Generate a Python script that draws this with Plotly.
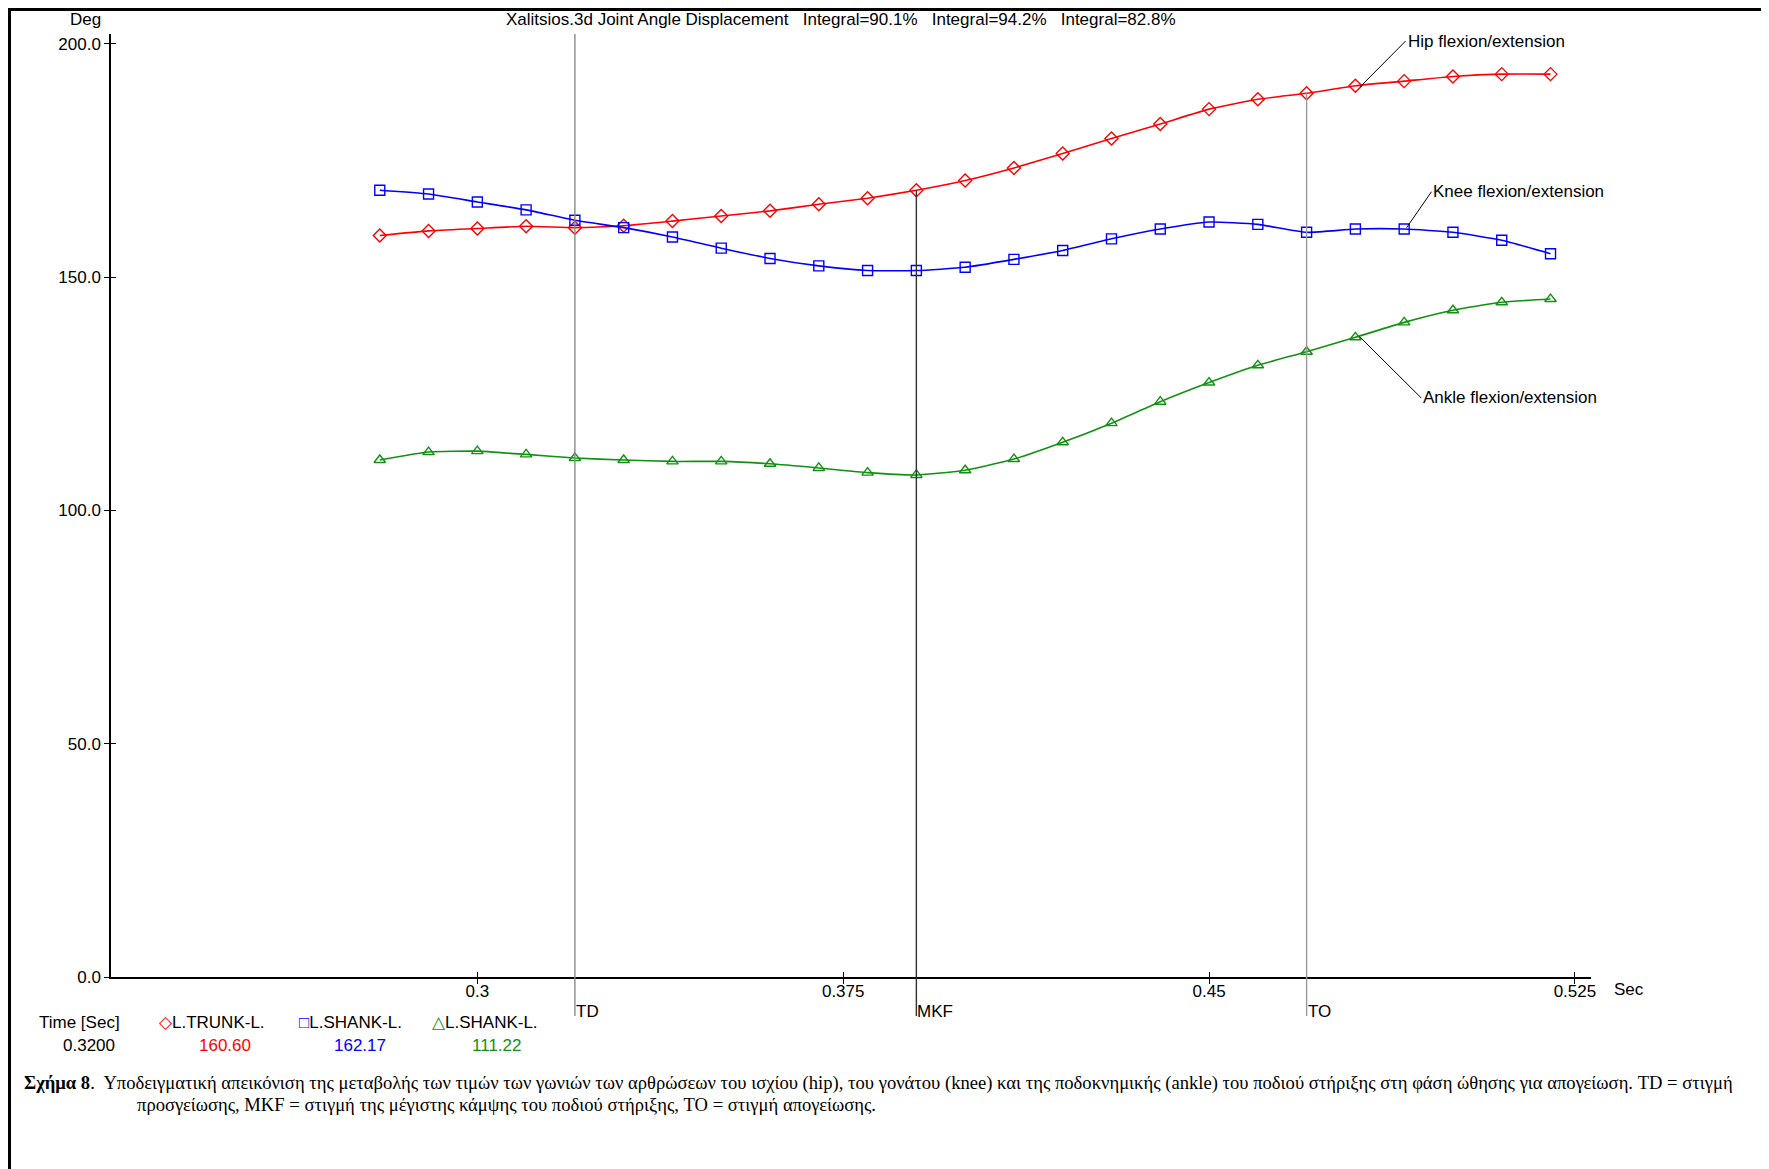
import plotly.graph_objects as go

# ---- data ----
time_s = [0.28, 0.29, 0.30, 0.31, 0.32, 0.33, 0.34, 0.35, 0.36, 0.37, 0.38, 0.39, 0.40,
          0.41, 0.42, 0.43, 0.44, 0.45, 0.46, 0.47, 0.48, 0.49, 0.50, 0.51, 0.52]
hip = [158.9, 159.9, 160.4, 160.9, 160.6, 161.0, 162.0, 163.1, 164.2, 165.6, 166.9, 168.6, 170.7,
       173.4, 176.5, 179.7, 182.8, 186.0, 188.1, 189.4, 191.0, 192.0, 193.0, 193.5, 193.5]
knee = [168.6, 167.8, 166.1, 164.4, 162.17, 160.6, 158.6, 156.2, 154.0, 152.4, 151.4, 151.4, 152.1,
        153.8, 155.7, 158.2, 160.3, 161.8, 161.3, 159.6, 160.3, 160.3, 159.6, 157.9, 155.0]
ankle = [110.8, 112.5, 112.7, 112.0, 111.22, 110.8, 110.5, 110.5, 110.0, 109.1, 108.1, 107.6, 108.6,
         111.0, 114.6, 118.7, 123.3, 127.4, 131.1, 134.0, 137.1, 140.3, 142.9, 144.6, 145.3]

event_names = ["TD", "MKF", "TO"]
event_times = [0.32, 0.39, 0.47]
event_colors = ["#8a8a8a", "#303030", "#9a9a9a"]
event_full = [True, False, False]

x_tickvals = [0.3, 0.375, 0.45, 0.525]
x_ticktext = ["0.3", "0.375", "0.45", "0.525"]
y_tickvals = [0, 50, 100, 150, 200]

cursor_time = "0.3200"
cursor_vals = ["160.60", "162.17", "111.22"]
series_names = ["L.TRUNK-L.", "L.SHANK-L.", "L.SHANK-L."]
series_colors = ["#ff0000", "#0000ff", "#119111"]
series_symbols = ["◇", "□", "△"]
marker_syms = ["diamond-open", "square-open", "triangle-up-open"]

labels = ["Hip flexion/extension", "Knee flexion/extension", "Ankle flexion/extension"]

title = ("Xalitsios.3d Joint Angle Displacement   Integral=90.1%   "
         "Integral=94.2%   Integral=82.8%")
caption1 = ("<b>Σχήμα 8</b>.  Υποδειγματική απεικόνιση της μεταβολής των τιμών των γωνιών των "
            "αρθρώσεων του ισχίου (hip), του γονάτου (knee) και της ποδοκνημικής (ankle) του ποδιού "
            "στήριξης στη φάση ώθησης για απογείωση. TD = στιγμή")
caption2 = ("προσγείωσης, MKF = στιγμή της μέγιστης κάμψης του ποδιού στήριξης, "
            "TO = στιγμή απογείωσης.")

# ---- layout geometry (page pixels; page has an 8px body margin) ----
OFF = 8
W, H = 1769, 1169
L, R, T, B = 111, 1591, 34, 977   # plot area in page pixels
XR = [0.2249, 0.5283]
YR = [0, 202.1]


def px(xp):
    return (xp - L) / (R - L)


def py(yp):
    return (B - yp) / (B - T)


FONT = "Liberation Sans, Arial, sans-serif"
SERIF = "Liberation Serif, Times New Roman, serif"
FS = 17

fig = go.Figure()
for vals, c, ms, nm in zip([hip, knee, ankle], series_colors, marker_syms, labels):
    fig.add_trace(go.Scatter(
        x=time_s, y=vals, mode="lines+markers", name=nm,
        line=dict(color=c, width=1.6, shape="spline", smoothing=0.5),
        marker=dict(symbol=ms, size=10, color=c, line=dict(width=1.4, color=c)),
        showlegend=False, cliponaxis=False))

shapes = []
annotations = []
# event lines
for nm, t, c, full in zip(event_names, event_times, event_colors, event_full):
    idx = min(range(len(time_s)), key=lambda i: abs(time_s[i] - t))
    top = 1.0 if full else hip[idx] / YR[1]
    shapes.append(dict(type="line", xref="x", yref="paper", x0=t, x1=t,
                       y0=py(1016), y1=top, line=dict(color=c, width=1.4), layer="above"))
    annotations.append(dict(x=t, y=py(1011), xref="x", yref="paper", text=nm, showarrow=False,
                            xanchor="left", yanchor="middle", xshift=-1,
                            font=dict(family=FONT, size=FS, color="black")))

# frame
shapes.append(dict(type="line", xref="paper", yref="paper", x0=px(OFF), x1=px(W + OFF),
                   y0=py(OFF + 1.5), y1=py(OFF + 1.5), line=dict(color="black", width=3)))
shapes.append(dict(type="line", xref="paper", yref="paper", x0=px(OFF + 1.5), x1=px(OFF + 1.5),
                   y0=py(OFF), y1=py(H + OFF), line=dict(color="black", width=3)))

# curve labels with leader lines
tips = [(0.481, hip[20] - 0.2), (0.4905, knee[21] + 0.3), (0.4808, ankle[20] + 0.2)]
texts_pos = [(0.4903, 200.6), (0.4956, 168.3), (0.4935, 124.1)]
for lab, (tx, ty), (ax, ay) in zip(labels, tips, texts_pos):
    annotations.append(dict(x=tx, y=ty, xref="x", yref="y", ax=ax, ay=ay, axref="x", ayref="y",
                            text=lab, showarrow=True, arrowhead=0, arrowwidth=1,
                            arrowcolor="black", xanchor="left", yanchor="middle",
                            font=dict(family=FONT, size=FS, color="black")))

# title and axis names
annotations.append(dict(x=px(841), y=py(19), xref="paper", yref="paper", text=title,
                        showarrow=False, xanchor="center", yanchor="middle",
                        font=dict(family=FONT, size=FS, color="black")))
annotations.append(dict(x=px(85), y=py(19), xref="paper", yref="paper", text="Deg",
                        showarrow=False, xanchor="center", yanchor="middle",
                        font=dict(family=FONT, size=FS, color="black")))
annotations.append(dict(x=px(1612), y=py(989), xref="paper", yref="paper", text="Sec",
                        showarrow=False, xanchor="left", yanchor="middle",
                        font=dict(family=FONT, size=FS, color="black")))

# cursor readout
annotations.append(dict(x=px(79), y=py(1022), xref="paper", yref="paper", text="Time [Sec]",
                        showarrow=False, xanchor="center", yanchor="middle",
                        font=dict(family=FONT, size=FS, color="black")))
annotations.append(dict(x=px(89), y=py(1045), xref="paper", yref="paper", text=cursor_time,
                        showarrow=False, xanchor="center", yanchor="middle",
                        font=dict(family=FONT, size=FS, color="black")))
head_x = [212, 350, 485]
val_x = [225, 360, 496]
for nm, c, sym, v, hx, vx in zip(series_names, series_colors, series_symbols, cursor_vals,
                                   head_x, val_x):
    annotations.append(dict(x=px(hx), y=py(1022), xref="paper", yref="paper",
                            text=f"<span style='color:{c}'>{sym}</span>{nm}",
                            showarrow=False, xanchor="center", yanchor="middle",
                            font=dict(family=FONT, size=FS, color="black")))
    annotations.append(dict(x=px(vx), y=py(1045), xref="paper", yref="paper", text=v,
                            showarrow=False, xanchor="center", yanchor="middle",
                            font=dict(family=FONT, size=FS, color=c)))

# caption
annotations.append(dict(x=px(22), y=py(1083), xref="paper", yref="paper", text=caption1,
                        showarrow=False, xanchor="left", yanchor="middle",
                        font=dict(family=SERIF, size=18.6, color="black")))
annotations.append(dict(x=px(135), y=py(1104), xref="paper", yref="paper", text=caption2,
                        showarrow=False, xanchor="left", yanchor="middle",
                        font=dict(family=SERIF, size=18.6, color="black")))

fig.update_layout(
    width=W, height=H,
    margin=dict(l=L - OFF, r=W - (R - OFF), t=T - OFF, b=H - (B - OFF), autoexpand=False),
    paper_bgcolor="white", plot_bgcolor="white",
    showlegend=False,
    xaxis=dict(range=XR, tickvals=x_tickvals, ticktext=x_ticktext, showgrid=False,
               zeroline=False, showline=True, linecolor="black", linewidth=1.5,
               ticks="outside", ticklen=5, tickcolor="black", tickwidth=1.2,
               ticklabelstandoff=-7,
               tickfont=dict(family=FONT, size=FS, color="black")),
    yaxis=dict(range=YR, tickvals=y_tickvals, tickformat=".1f", showgrid=False,
               zeroline=False, showline=True, linecolor="black", linewidth=1.5,
               ticks="outside", ticklen=5, tickcolor="black", tickwidth=1.2,
               tickfont=dict(family=FONT, size=FS, color="black")),
    xaxis2=dict(range=XR, tickvals=x_tickvals, overlaying="x", side="bottom",
                anchor="y", showticklabels=False, showgrid=False, zeroline=False,
                ticks="inside", ticklen=5, tickcolor="black", tickwidth=1.2, showline=False),
    yaxis2=dict(range=YR, tickvals=y_tickvals, overlaying="y", side="left",
                anchor="x", showticklabels=False, showgrid=False, zeroline=False,
                ticks="inside", ticklen=5, tickcolor="black", tickwidth=1.2, showline=False),
    shapes=shapes, annotations=annotations,
)
fig.add_trace(go.Scatter(x=[time_s[0]], y=[hip[0]], xaxis="x2", yaxis="y2", mode="markers",
                         marker=dict(opacity=0), hoverinfo="skip", showlegend=False))

fig.write_html("out.html")
